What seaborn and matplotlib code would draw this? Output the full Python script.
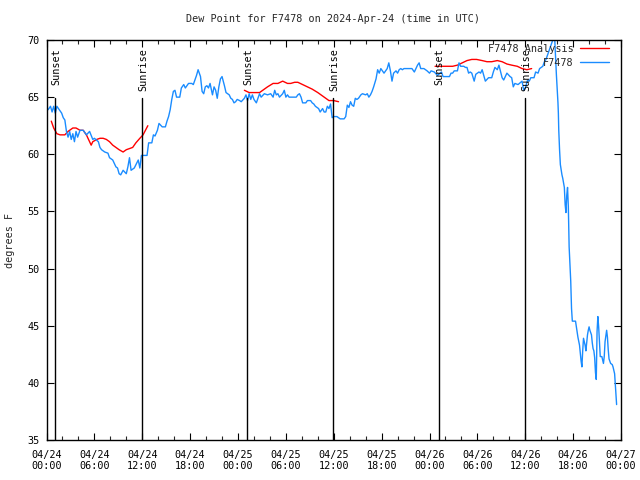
import matplotlib
matplotlib.use("Agg")
import matplotlib.pyplot as plt
import seaborn as sns
import pandas as pd
import numpy as np

# ---------------- data ----------------
title = "Dew Point for F7478 on 2024-Apr-24 (time in UTC)"
ylabel = "degrees F"

obs_hours = [0.2, 0.5, 0.7, 0.9, 1.1, 1.3, 1.6, 1.9, 2.1, 2.3, 2.5, 2.7, 2.9, 3.1, 3.3, 3.5, 3.7, 3.9,
             4.2, 4.6, 5.0, 5.4, 5.8, 6.0, 6.5, 6.7, 6.9, 7.3, 7.7, 7.9, 8.3, 8.7, 8.9, 9.1, 9.3, 9.6,
             10.0, 10.2, 10.4, 10.6, 11.0, 11.5, 11.7, 11.9, 12.1, 12.6, 12.8, 13.2, 13.4, 13.6, 13.9,
             14.1, 14.5, 14.9, 15.1, 15.3, 15.5, 15.7, 15.9, 16.1, 16.3, 16.7, 16.9, 17.2, 17.4, 17.6,
             17.8, 18.2, 18.4, 18.6, 18.8, 19.0, 19.3, 19.5, 19.7, 19.9, 20.1, 20.3, 20.5, 20.8, 21.0,
             21.2, 21.4, 21.6, 21.8, 22.0, 22.3, 22.5, 22.9, 23.1, 23.3, 23.5, 23.7, 23.9, 24.2, 24.4,
             24.8, 25.0, 25.2, 25.4, 25.6, 25.8, 26.0, 26.3, 26.7, 26.9, 27.3, 27.7, 28.1, 28.4, 28.6,
             28.8, 29.0, 29.2, 29.6, 29.8, 30.0, 30.2, 30.4, 31.3, 31.5, 31.7, 31.9, 32.1, 32.5, 32.7,
             33.1, 33.3, 33.5, 33.7, 34.1, 34.3, 34.6, 34.8, 35.0, 35.2, 35.4, 35.6, 35.8, 36.0, 36.4,
             36.8, 37.3, 37.5, 37.7, 37.9, 38.1, 38.3, 38.5, 38.7, 38.9, 39.1, 39.4, 39.6, 40.0, 40.2,
             40.4, 40.6, 40.8, 41.0, 41.3, 41.5, 41.7, 41.9, 42.1, 42.3, 42.5, 42.7, 42.9, 43.1, 43.3,
             43.5, 43.8, 44.0, 44.2, 44.4, 44.6, 44.8, 45.2, 45.8, 46.1, 46.5, 46.7, 46.9, 47.3, 47.7,
             48.0, 48.2, 48.6, 49.0, 49.5, 49.7, 50.1, 50.5, 50.7, 50.9, 51.1, 51.5, 51.7, 51.9, 52.3,
             52.5, 52.7, 52.9, 53.1, 53.3, 53.6, 53.8, 54.2, 54.4, 54.6, 55.0, 55.4, 55.8, 56.0, 56.2,
             56.5, 56.7, 57.1, 57.3, 57.7, 58.1, 58.3, 58.5, 58.7, 59.1, 59.6, 59.8, 60.0, 60.3, 60.5,
             60.7, 61.1, 61.3, 61.6, 61.8, 62.0, 62.2, 62.4, 62.6, 62.8, 63.0, 63.4, 63.6, 63.7, 63.9,
             64.1, 64.15, 64.2, 64.3, 64.4, 64.6, 64.7, 64.9, 65.0, 65.1, 65.2, 65.3, 65.4, 65.5, 65.7,
             65.8, 65.9, 66.3, 66.5, 66.6, 66.8, 66.9, 67.0, 67.1, 67.2, 67.3, 67.5, 67.6, 67.7, 67.8,
             67.9, 68.0, 68.1, 68.3, 68.4, 68.5, 68.6, 68.7, 68.8, 68.9, 69.0, 69.1, 69.2, 69.3, 69.4,
             69.6, 69.8, 69.9, 70.0, 70.2, 70.3, 70.4, 70.5, 70.7, 70.9, 71.0, 71.2, 71.3, 71.4, 71.45]
obs_values = [63.9, 64.2, 63.7, 64.2, 63.6, 64.2, 63.9, 63.6, 63.2, 63.0, 62.0, 61.5, 62.0, 61.3, 61.8, 61.1, 62.0, 61.5,
              62.1, 62.1, 61.7, 62.0, 61.3, 61.4, 61.1, 60.6, 60.4, 60.2, 60.1, 59.7, 59.5, 58.9, 58.8, 58.3, 58.2, 58.6,
              58.3, 58.9, 59.7, 58.6, 58.8, 59.5, 58.8, 59.9, 59.9, 59.9, 61.0, 61.0, 61.7, 61.6, 62.1,
              62.7, 62.4, 62.4, 62.9, 63.3, 63.9, 64.8, 65.5, 65.6, 65.0, 65.0, 65.8, 66.1, 65.8, 66.0,
              66.2, 66.2, 66.1, 66.5, 66.9, 67.4, 66.8, 65.5, 65.3, 65.9, 66.0, 65.8, 66.2, 65.2, 65.9,
              65.6, 64.9, 65.9, 66.6, 66.8, 66.0, 65.4, 65.2, 64.9, 64.8, 64.5, 64.6, 64.8, 64.7, 64.6,
              64.9, 65.2, 64.7, 65.3, 64.8, 65.2, 64.8, 64.5, 65.3, 65.0, 65.3, 65.2, 65.3, 65.0, 65.6,
              65.2, 65.3, 65.0, 65.3, 65.6, 65.0, 65.2, 65.0, 65.0, 65.2, 65.3, 65.0, 64.5, 64.5, 64.7,
              64.7, 64.5, 64.4, 64.2, 64.0, 63.7, 64.0, 63.7, 63.7, 64.2, 64.0, 64.4, 63.2, 63.3, 63.3,
              63.1, 63.1, 63.3, 64.3, 64.1, 64.6, 64.3, 64.2, 64.9, 64.8, 64.9, 65.2, 65.3, 65.2, 65.3,
              65.0, 65.2, 65.5, 65.9, 66.6, 67.4, 67.1, 67.5, 67.3, 67.1, 67.3, 67.5, 68.0, 67.3, 66.4,
              67.1, 67.3, 67.1, 67.4, 67.5, 67.4, 67.5, 67.5, 67.5, 67.2, 67.8, 68.0, 67.5, 67.5, 67.3,
              67.1, 67.3, 67.2, 66.9, 67.2, 66.8, 66.8, 66.8, 67.1, 67.1, 67.3, 67.3, 68.0, 67.7, 67.7,
              67.6, 67.6, 67.1, 67.2, 67.1, 66.4, 67.0, 67.2, 67.1, 67.4, 66.4, 66.7, 66.7, 67.2, 67.6,
              67.4, 67.8, 66.7, 66.5, 67.1, 66.8, 66.7, 65.9, 66.2, 66.1, 66.4, 65.6, 65.8, 66.5, 66.4,
              66.7, 66.7, 67.2, 67.1, 67.5, 67.6, 67.7, 68.1, 68.3, 68.7, 69.1, 69.9, 70.3, 70.0, 67.0,
              64.5, 63.6, 62.1, 60.4, 59.1, 58.2, 57.9, 57.1, 55.6, 54.9, 56.4, 57.1, 55.4, 51.9, 48.9,
              46.5, 45.4, 45.4, 44.5, 44.0, 43.3, 42.6, 41.9, 41.4, 42.8, 43.9, 43.3, 42.8, 43.5, 44.2,
              44.6, 44.9, 44.6, 44.2, 43.5, 43.0, 42.8, 42.2, 40.9, 40.3, 44.5, 45.8, 44.9, 43.6, 42.3,
              42.3, 41.7, 42.3, 43.6, 44.6, 44.0, 42.9, 42.1, 41.7, 41.6, 41.4, 40.8, 39.7, 38.7, 38.1]

ana1_hours = [0.6, 0.9, 1.3, 1.7, 2.3, 2.7, 3.3, 3.7, 4.2, 4.6, 5.0, 5.4, 5.6, 5.8, 6.3, 6.7, 7.1, 7.5,
              7.9, 8.3, 8.7, 9.1, 9.6, 10.0, 10.4, 10.8, 11.2, 11.7, 12.1, 12.7]
ana1_values = [62.9, 62.3, 61.8, 61.7, 61.7, 62.0, 62.3, 62.3, 62.1, 62.1, 61.7, 61.1, 60.8, 61.1, 61.3, 61.4, 61.4, 61.3,
               61.1, 60.8, 60.6, 60.4, 60.2, 60.4, 60.5, 60.6, 61.0, 61.4, 61.7, 62.5]
ana2_hours = [24.8, 25.4, 26.3, 26.7, 27.1, 27.7, 28.4, 29.0, 29.6, 30.2, 30.6, 31.1, 31.5, 32.1, 32.7,
              33.3, 34.0, 34.4, 34.8, 35.4, 36.0, 36.6]
ana2_values = [65.6, 65.4, 65.4, 65.4, 65.6, 65.9, 66.2, 66.2, 66.4, 66.2, 66.2, 66.3, 66.3, 66.1, 65.9,
               65.7, 65.4, 65.2, 65.0, 64.7, 64.7, 64.6]
ana3_hours = [48.7, 49.5, 50.3, 50.9, 51.5, 52.1, 52.7, 53.3, 53.9, 54.6, 55.2, 55.8, 56.5, 57.1, 57.7,
              58.3, 59.0, 59.6, 60.2, 60.8]
ana3_values = [67.7, 67.7, 67.7, 67.7, 67.8, 68.0, 68.2, 68.3, 68.3, 68.2, 68.1, 68.1, 68.2, 68.1, 67.9,
               67.8, 67.7, 67.5, 67.4, 67.5]

sun_hours = [1.08, 11.97, 25.1, 35.95, 49.15, 59.97]
sun_labels = ["Sunset", "Sunrise", "Sunset", "Sunrise", "Sunset", "Sunrise"]

xtick_hours = [0, 6, 12, 18, 24, 30, 36, 42, 48, 54, 60, 66, 72]
xtick_labels = ["04/24\n00:00", "04/24\n06:00", "04/24\n12:00", "04/24\n18:00",
                "04/25\n00:00", "04/25\n06:00", "04/25\n12:00", "04/25\n18:00",
                "04/26\n00:00", "04/26\n06:00", "04/26\n12:00", "04/26\n18:00",
                "04/27\n00:00"]
ytick_values = [35, 40, 45, 50, 55, 60, 65, 70]

# ---------------- plot ----------------
sns.set_theme(style="white")
plt.rcParams['font.family'] = ['DejaVu Sans Mono']
fs = 7.3

fig = plt.figure(figsize=(6.4, 4.8), dpi=100)
ax = fig.add_axes([46.5 / 640, 1 - 440 / 480, (621 - 46.5) / 640, 400 / 480])

red = "#ff0000"
blue = "#1a8cff"

for i, (h, v) in enumerate([(ana1_hours, ana1_values), (ana2_hours, ana2_values), (ana3_hours, ana3_values)]):
    sns.lineplot(x=h, y=v, ax=ax, color=red, linewidth=1.0,
                 label="F7478 Analysis" if i == 0 else None, estimator=None, sort=False)
sns.lineplot(x=obs_hours, y=obs_values, ax=ax, color=blue, linewidth=1.0,
             label="F7478", estimator=None, sort=False)

ax.set_xlim(0, 72)
ax.set_ylim(35, 70)

for h, lab in zip(sun_hours, sun_labels):
    ax.plot([h, h], [35, 64.9], color="black", linewidth=1.0)
    ax.text(h + 0.15, 69.3, lab, rotation=90, ha="center", va="top", fontsize=fs, color="black")

ax.set_xticks(xtick_hours)
ax.set_xticklabels(xtick_labels, fontsize=fs)
ax.set_xticks(np.arange(0, 73, 2), minor=True)
ax.set_yticks(ytick_values)
ax.set_yticklabels([str(v) for v in ytick_values], fontsize=fs)
ax.tick_params(axis="both", which="major", direction="in", length=5, width=0.8,
               top=True, right=True, bottom=True, left=True, pad=5, colors="black")
ax.tick_params(axis="x", which="minor", direction="in", length=3, width=0.8,
               top=True, bottom=True)
ax.tick_params(axis="x", which="major", pad=7)
for s in ax.spines.values():
    s.set_color("black")
    s.set_linewidth(1.0)
ax.grid(False)

ax.set_xlabel("")
ax.set_ylabel(ylabel, fontsize=fs)
ax.yaxis.set_label_coords(-0.055, 0.5)

fig.text(333 / 640, 1 - 19 / 480, title, ha="center", va="center", fontsize=fs)

leg = ax.legend(loc="upper right", frameon=False, markerfirst=False, fontsize=fs,
                handlelength=2.9, handletextpad=0.6, labelspacing=0.35,
                borderaxespad=0.0, borderpad=0.2,
                bbox_to_anchor=(1 - 10 / 574.5, 1 - 2 / 400))

fig.savefig("out.png", dpi=100, facecolor="white")
